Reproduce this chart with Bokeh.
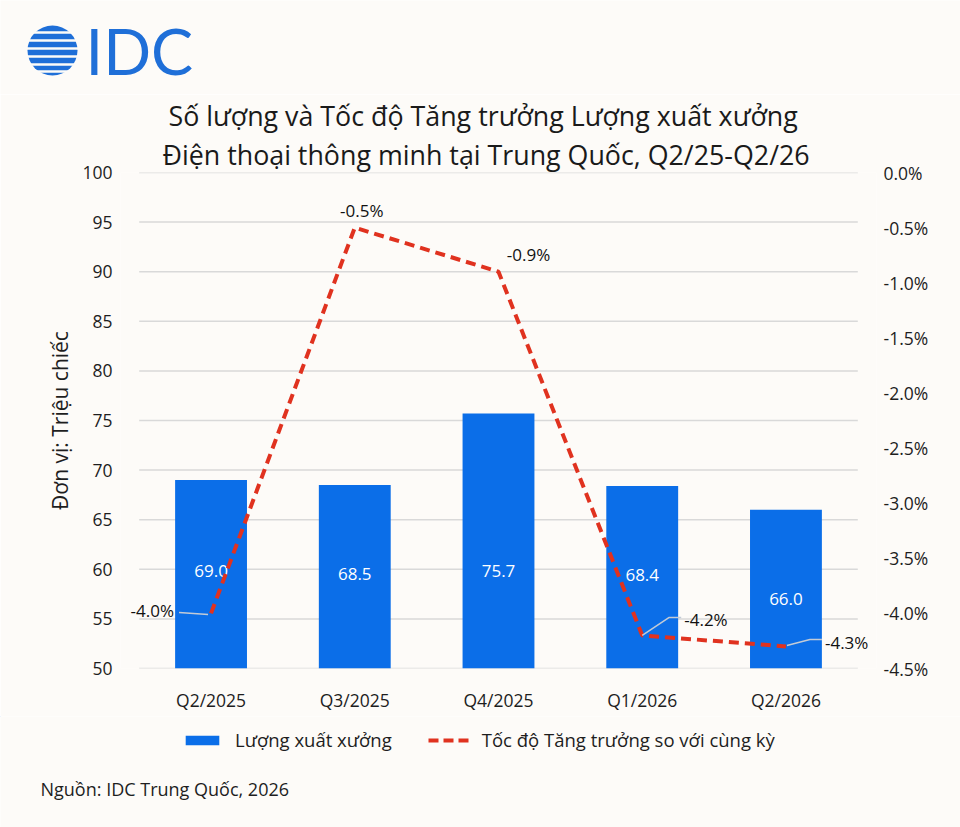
from bokeh.plotting import figure
from bokeh.layouts import column, row
from bokeh.models import (ColumnDataSource, Range1d, FactorRange, LinearAxis, FixedTicker,
                          PrintfTickFormatter, Legend, LegendItem, Title)
from bokeh.core.properties import value
from bokeh.embed import file_html
from bokeh.resources import INLINE

# --- data ---
quarters = ["Q2/2025", "Q3/2025", "Q4/2025", "Q1/2026", "Q2/2026"]
shipments = [69.0, 68.5, 75.7, 68.4, 66.0]      # trieu chiec
growth = [-4.0, -0.5, -0.9, -4.2, -4.3]         # % so voi cung ky
left_ticks = [50, 55, 60, 65, 70, 75, 80, 85, 90, 95, 100]
right_ticks = [-4.5, -4.0, -3.5, -3.0, -2.5, -2.0, -1.5, -1.0, -0.5, 0.0]

title_lines = ["Số lượng và Tốc độ Tăng trưởng Lượng xuất xưởng",
               "Điện thoại thông minh tại Trung Quốc, Q2/25-Q2/26"]
y_label = "Đơn vị: Triệu chiếc"
bar_name = "Lượng xuất xưởng"
line_name = "Tốc độ Tăng trưởng so với cùng kỳ"
source_note = "Nguồn: IDC Trung Quốc, 2026"

# --- styling ---
FONT = "Open Sans"
BLUE = "#0b6ee8"
RED = "#e0321f"
BG = "#fdfbf8"
INK = "#1e1e1e"
GRID = "#d9d9d9"
LOGO = "#1f6fd8"
DASH = "10 6"
TITLE_SIZE = "26.8px"

W = 960
HEAD_H, MAIN_H, FOOT_H = 94, 622, 111


def blank(height, y0):
    # figure whose frame is the whole canvas, data units = page pixels
    f = figure(width=W, height=height, x_range=Range1d(0, W), y_range=Range1d(y0 + height, y0),
               x_axis_type=None, y_axis_type=None, min_border_left=0, min_border_right=0,
               min_border_top=0, min_border_bottom=0, output_backend="svg",
               toolbar_location=None, tools="", background_fill_color=BG,
               border_fill_color=BG, outline_line_color=None)
    f.grid.visible = False
    return f


# ---------- header: logo ----------
head = blank(HEAD_H, 0)
head.circle(x=[52], y=[50], radius=25, fill_color=LOGO, line_color=None)
head.hbar(y=[32, 40, 48, 56, 64, 71], left=20, right=84, height=2.6,
          fill_color=BG, line_color=None)
head.text(x=[85], y=[50], text=["IDC"], text_baseline="middle", text_font=value("Lato"),
          text_font_size="63px", text_color=LOGO)

# ---------- main chart ----------
p = figure(width=W, height=MAIN_H,
           x_range=FactorRange(factors=quarters, range_padding=0.13,
                               range_padding_units="absolute"),
           y_range=Range1d(50, 100), output_backend="svg", toolbar_location=None, tools="",
           min_border_left=120, min_border_right=84, min_border_top=76, min_border_bottom=48,
           background_fill_color=BG, border_fill_color=BG, outline_line_color=None)
p.extra_y_ranges = {"pct": Range1d(-4.5, 0)}
# two title lines, the second one nearest the plot
for text, off in [(title_lines[1], 42), (title_lines[0], 48)]:
    p.add_layout(Title(text=text, align="left", offset=off, standoff=0,
                       text_font=FONT, text_font_size=TITLE_SIZE, text_font_style="normal",
                       text_color="#1a1a1a"), "above")

p.yaxis.ticker = FixedTicker(ticks=left_ticks)
p.yaxis.axis_label = y_label
p.yaxis.axis_label_text_font = FONT
p.yaxis.axis_label_text_font_size = "21px"
p.yaxis.axis_label_text_font_style = "normal"
p.yaxis.axis_label_text_color = INK
p.yaxis.axis_label_standoff = 5
p.yaxis.major_label_standoff = 2

right = LinearAxis(y_range_name="pct", ticker=FixedTicker(ticks=right_ticks),
                   formatter=PrintfTickFormatter(format="%.1f%%"))
p.add_layout(right, "right")
right.major_label_standoff = 1

p.xaxis.major_label_standoff = 13
for ax in p.xaxis + p.yaxis:
    ax.axis_line_color = None
    ax.major_tick_line_color = None
    ax.minor_tick_line_color = None
    ax.major_label_text_font = FONT
    ax.major_label_text_font_size = "17.5px"
    ax.major_label_text_color = INK
p.grid.visible = False

# horizontal gridlines only across the category band
p.segment(x0=0, x1=len(quarters), y0=left_ticks, y1=left_ticks, line_color=GRID,
          line_width=1.5)

# bars
src = ColumnDataSource(dict(q=quarters, v=shipments,
                            lab=["%.1f" % v for v in shipments],
                            ly=[min(v - 9.0, 59.8) for v in shipments]))
p.vbar(x="q", top="v", bottom=50, width=0.5, source=src, fill_color=BLUE, line_color=None)
p.text(x="q", y="ly", text="lab", source=src, text_color="white", text_align="center",
       text_baseline="middle", text_font=value(FONT), text_font_size="17px")

# growth line
p.line(quarters, growth, y_range_name="pct", line_color=RED, line_width=4, line_dash=DASH)

# leader lines (pixel offsets from the point, converted through the scales)
PX_X = 1 / 143.73
PX_Y = 4.5 / 496
leaders = {0: [(-32, -1), (-3, 1)], 3: [(0, 0), (27, -18), (39, -18)],
           4: [(1, -1), (24, -7), (36, -7)]}
xs, ys = [], []
for i, pts in leaders.items():
    xs.append([i + 0.5 + dx * PX_X for dx, dy in pts])
    ys.append([growth[i] - dy * PX_Y for dx, dy in pts])
p.multi_line(xs, ys, y_range_name="pct", line_color="#c3cbd6", line_width=1.5)

# growth labels
lab_dx = [-37, 7, 30, 42, 39]
lab_dy = [-3, -17, -17, -16, -4]
lab_align = ["right", "center", "center", "left", "left"]
p.text(x=quarters, y=growth, text=["%.1f%%" % g for g in growth], y_range_name="pct",
       x_offset=lab_dx, y_offset=lab_dy, text_align=lab_align, text_baseline="middle",
       text_font=value(FONT), text_font_size="17px", text_color="#111111")

# ---------- footer: legend + source ----------
foot = blank(FOOT_H, HEAD_H + MAIN_H)
# legend keys only: one point parked off-canvas so the key glyphs get drawn
bar_key = foot.vbar(x=[-100], top=[0], bottom=0, width=1, fill_color=BLUE, line_color=None)
line_key = foot.line(x=[-100, -90], y=[0, 0], line_color=RED, line_width=4, line_dash="10 5")
legend = Legend(items=[LegendItem(label=bar_name, renderers=[bar_key]),
                       LegendItem(label=line_name, renderers=[line_key])],
                orientation="horizontal", location=(181, 827 - 752),
                background_fill_alpha=0, border_line_color=None, padding=0, margin=0,
                spacing=36, label_standoff=12, glyph_width=42, glyph_height=12,
                label_text_font=FONT, label_text_font_size="18.5px", label_text_color=INK)
foot.add_layout(legend, "center")
foot.text(x=[40], y=[788], text=[source_note], text_baseline="middle",
          text_font=value(FONT), text_font_size="18px", text_color=INK)

page = column(row(head), p, row(foot), spacing=0)
open("out.html", "w").write(file_html(page, INLINE))
